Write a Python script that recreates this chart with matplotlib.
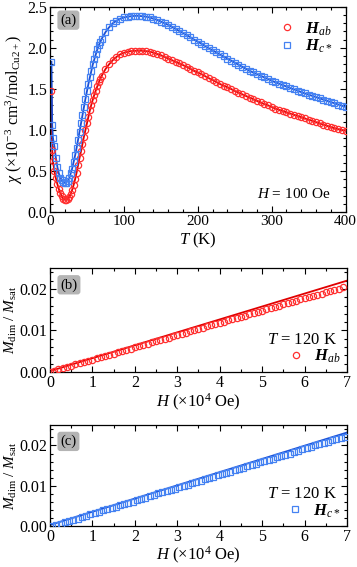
import matplotlib
matplotlib.use("Agg")
import matplotlib.pyplot as plt
from matplotlib.ticker import MultipleLocator, FormatStrFormatter

plt.rcParams['font.family'] = ['Liberation Serif', 'DejaVu Serif']
plt.rcParams['mathtext.fontset'] = 'custom'
plt.rcParams['mathtext.rm'] = 'Liberation Serif'
plt.rcParams['mathtext.it'] = 'Liberation Serif:italic'
plt.rcParams['mathtext.bf'] = 'Liberation Serif:italic:bold'
plt.rcParams['font.size'] = 12

# (a) susceptibility vs temperature, H = 100 Oe
temp = [2, 3,
        4, 6, 8, 10, 12, 14, 16, 18, 20, 22, 24, 26, 28, 30, 32, 34, 36,
        38, 40, 42, 44, 46, 48, 50, 52, 54, 56, 58, 60, 62, 64, 66, 68, 70,
        75, 80, 85, 90, 95, 100, 105, 110, 115, 120, 125, 130, 135, 140,
        145, 150, 155, 160, 165, 170, 175, 180, 185, 190, 195, 200, 205, 210,
        215, 220, 225, 230, 235, 240, 245, 250, 255, 260, 265, 270, 275, 280,
        285, 290, 295, 300, 305, 310, 315, 320, 325, 330, 335, 340, 345, 350,
        355, 360, 365, 370, 375, 380, 385, 390, 395, 400]
chi_ab = [1.47, 0.76,
          0.62, 0.50, 0.41, 0.34, 0.28, 0.23, 0.19, 0.16, 0.15, 0.15, 0.16, 0.18, 0.22, 0.27, 0.33, 0.40, 0.48,
          0.57, 0.66, 0.74, 0.83, 0.92, 1.00, 1.08, 1.16, 1.24, 1.31, 1.37, 1.43, 1.48, 1.53, 1.58, 1.62, 1.66,
          1.74, 1.80, 1.85, 1.89, 1.92, 1.94, 1.955, 1.96, 1.965, 1.965, 1.965, 1.96, 1.955, 1.94,
          1.925, 1.91, 1.89, 1.87, 1.85, 1.83, 1.81, 1.79, 1.77, 1.745, 1.72, 1.70, 1.68, 1.655,
          1.63, 1.61, 1.585, 1.56, 1.54, 1.52, 1.50, 1.475, 1.455, 1.435, 1.415, 1.395, 1.375, 1.355,
          1.335, 1.315, 1.30, 1.28, 1.26, 1.245, 1.23, 1.215, 1.20, 1.185, 1.17, 1.155, 1.14, 1.125,
          1.11, 1.095, 1.08, 1.065, 1.05, 1.035, 1.02, 1.01, 1.00, 0.99]
chi_c = [1.83, 1.06,
         0.90, 0.80, 0.66, 0.55, 0.47, 0.42, 0.39, 0.37, 0.36, 0.36, 0.38, 0.41, 0.47, 0.53, 0.61, 0.69, 0.78,
         0.88, 0.98, 1.08, 1.18, 1.28, 1.38, 1.47, 1.56, 1.64, 1.72, 1.80, 1.86, 1.92, 1.98, 2.03, 2.07, 2.11,
         2.19, 2.25, 2.30, 2.33, 2.355, 2.37, 2.38, 2.385, 2.39, 2.39, 2.385, 2.38, 2.37, 2.355,
         2.34, 2.32, 2.30, 2.28, 2.255, 2.23, 2.205, 2.18, 2.155, 2.13, 2.10, 2.075, 2.05, 2.02,
         1.995, 1.97, 1.945, 1.92, 1.895, 1.87, 1.845, 1.82, 1.795, 1.77, 1.745, 1.72, 1.70, 1.68,
         1.66, 1.64, 1.62, 1.60, 1.58, 1.565, 1.545, 1.53, 1.51, 1.495, 1.48, 1.46, 1.445, 1.43,
         1.415, 1.40, 1.385, 1.37, 1.355, 1.34, 1.325, 1.31, 1.295, 1.28]

# (b), (c) magnetization vs field at T = 120 K
field = [0.0, 0.1, 0.2, 0.3, 0.4, 0.5, 0.6, 0.7, 0.8, 0.9, 1.0, 1.1, 1.2, 1.3, 1.4, 1.5,
         1.6, 1.7, 1.8, 1.9, 2.0, 2.1, 2.2, 2.3, 2.4, 2.5, 2.6, 2.7, 2.8, 2.9, 3.0, 3.1,
         3.2, 3.3, 3.4, 3.5, 3.6, 3.7, 3.8, 3.9, 4.0, 4.1, 4.2, 4.3, 4.4, 4.5, 4.6, 4.7,
         4.8, 4.9, 5.0, 5.1, 5.2, 5.3, 5.4, 5.5, 5.6, 5.7, 5.8, 5.9, 6.0, 6.1, 6.2, 6.3,
         6.4, 6.5, 6.6, 6.7, 6.8, 6.9]
m_ab = [0.0000, 0.0003, 0.0006, 0.0009, 0.0012, 0.0015, 0.0018, 0.0021, 0.0024, 0.0027,
        0.0030, 0.0033, 0.0036, 0.0038, 0.0041, 0.0044, 0.0047, 0.0050, 0.0053, 0.0056,
        0.0059, 0.0062, 0.0065, 0.0068, 0.0071, 0.0074, 0.0077, 0.0080, 0.0083, 0.0086,
        0.0089, 0.0092, 0.0095, 0.0098, 0.0101, 0.0104, 0.0107, 0.0110, 0.0112, 0.0115,
        0.0118, 0.0121, 0.0124, 0.0127, 0.0130, 0.0133, 0.0136, 0.0139, 0.0142, 0.0145,
        0.0148, 0.0151, 0.0154, 0.0157, 0.0160, 0.0163, 0.0166, 0.0169, 0.0172, 0.0175,
        0.0178, 0.0181, 0.0184, 0.0186, 0.0189, 0.0192, 0.0195, 0.0198, 0.0201, 0.0204]
m_c = [0.0000, 0.0003, 0.0006, 0.0010, 0.0013, 0.0016, 0.0019, 0.0023, 0.0026, 0.0029,
       0.0032, 0.0035, 0.0039, 0.0042, 0.0045, 0.0048, 0.0052, 0.0055, 0.0058, 0.0061,
       0.0064, 0.0068, 0.0071, 0.0074, 0.0077, 0.0081, 0.0084, 0.0087, 0.0090, 0.0093,
       0.0097, 0.0100, 0.0103, 0.0106, 0.0109, 0.0113, 0.0116, 0.0119, 0.0122, 0.0126,
       0.0129, 0.0132, 0.0135, 0.0138, 0.0142, 0.0145, 0.0148, 0.0151, 0.0155, 0.0158,
       0.0161, 0.0164, 0.0167, 0.0171, 0.0174, 0.0177, 0.0180, 0.0184, 0.0187, 0.0190,
       0.0193, 0.0196, 0.0200, 0.0203, 0.0206, 0.0209, 0.0213, 0.0216, 0.0219, 0.0222]
fit_field = [0.0, 7.0]
fit_ab = [0.0002, 0.0220]
fit_c = [0.0003, 0.0232]

red_pt, red_ln = '#ff3030', '#e00000'
blue_pt, blue_ln = '#4582f2', '#1a4fd6'


def style_axis(ax, xmaj, xmin, ymaj, ymin, yfmt):
    ax.xaxis.set_major_locator(MultipleLocator(xmaj))
    ax.xaxis.set_minor_locator(MultipleLocator(xmin))
    ax.yaxis.set_major_locator(MultipleLocator(ymaj))
    ax.yaxis.set_minor_locator(MultipleLocator(ymin))
    ax.yaxis.set_major_formatter(FormatStrFormatter(yfmt))
    ax.tick_params(which='both', direction='in', top=True, right=True, width=0.8,
                   labelsize=11.5, pad=2)
    ax.tick_params(which='major', length=4)
    ax.tick_params(which='minor', length=2)
    for s in ax.spines.values():
        s.set_linewidth(0.9)


def panel_tag(ax, text, y):
    ax.text(0.035, y, text, transform=ax.transAxes, fontsize=10.5, va='center',
            bbox=dict(boxstyle='round,pad=0.2', fc='#b4b4b4', ec='none'))


fig = plt.figure(figsize=(3.57, 5.67), dpi=100)

# panel (a)
ax = fig.add_axes([0.140, 0.626, 0.828, 0.362])
ax.plot(temp, chi_ab, color=red_ln, lw=1.3, zorder=2)
ax.plot(temp, chi_c, color=blue_ln, lw=1.3, zorder=2)
ax.plot(temp, chi_ab, 'o', ms=4.5, mfc='none', mec=red_pt, mew=0.9,
        label=r'$\mathbf{H}_{ab}$', zorder=3)
ax.plot(temp, chi_c, 's', ms=4.2, mfc='none', mec=blue_pt, mew=0.9,
        label=r'$\mathbf{H}_{c*}$', zorder=3)
ax.set_xlim(0, 400)
ax.set_ylim(0, 2.5)
style_axis(ax, 100, 20, 0.5, 0.1, '%.1f')
ax.tick_params(axis='x', labelsize=11)
ax.set_xlabel(r'$T$ (K)', labelpad=2)
ax.set_ylabel(r'$\chi$ ($\times$10$^{-3}$ cm$^3$/mol$_{\mathrm{Cu2+}}$)', fontsize=11.5)
ax.yaxis.set_label_coords(-0.085, 0.5)
ax.legend(loc='upper right', frameon=False, handletextpad=0.5, borderaxespad=0.4,
          labelspacing=0.0, handlelength=1.2, fontsize=12)
ax.text(0.95, 0.09, r'$H$ = 100 Oe', transform=ax.transAxes, ha='right', va='center',
        fontsize=11)
panel_tag(ax, '(a)', 0.935)

# panel (b)
ax = fig.add_axes([0.140, 0.344, 0.832, 0.183])
ax.plot(fit_field, fit_ab, color=red_ln, lw=1.3, zorder=2)
ax.plot(field, m_ab, 'o', ms=4.5, mfc='none', mec=red_pt, mew=0.9,
        label=r'$\mathbf{H}_{ab}$', zorder=3)
ax.set_xlim(0, 7)
ax.set_ylim(0, 0.025)
style_axis(ax, 1, 0.5, 0.01, 0.002, '%.2f')
ax.set_xlabel(r'$H$ ($\times$10$^4$ Oe)', labelpad=1)
ax.set_ylabel(r'$M_{\mathrm{dim}}$ / $M_{\mathrm{sat}}$', fontsize=11)
ax.yaxis.set_label_coords(-0.105, 0.5)
ax.legend(loc='lower right', frameon=False, handletextpad=0.5, borderaxespad=0.0,
          handlelength=1.2, fontsize=12)
ax.text(0.965, 0.31, r'$T$ = 120 K', transform=ax.transAxes, ha='right', va='center')
panel_tag(ax, '(b)', 0.84)

# panel (c)
ax = fig.add_axes([0.140, 0.072, 0.832, 0.178])
ax.plot(fit_field, fit_c, color=blue_ln, lw=1.3, zorder=2)
ax.plot([h + 0.05 for h in field], m_c, 's', ms=4.2, mfc='none', mec=blue_pt, mew=0.9,
        label=r'$\mathbf{H}_{c*}$', zorder=3)
ax.set_xlim(0, 7)
ax.set_ylim(0, 0.025)
style_axis(ax, 1, 0.5, 0.01, 0.002, '%.2f')
ax.set_xlabel(r'$H$ ($\times$10$^4$ Oe)', labelpad=0)
ax.set_ylabel(r'$M_{\mathrm{dim}}$ / $M_{\mathrm{sat}}$', fontsize=11)
ax.yaxis.set_label_coords(-0.105, 0.5)
ax.legend(loc='lower right', frameon=False, handletextpad=0.5, borderaxespad=0.0,
          handlelength=1.2, fontsize=12)
ax.text(0.965, 0.32, r'$T$ = 120 K', transform=ax.transAxes, ha='right', va='center')
panel_tag(ax, '(c)', 0.84)

fig.savefig('out.png', dpi=100)
